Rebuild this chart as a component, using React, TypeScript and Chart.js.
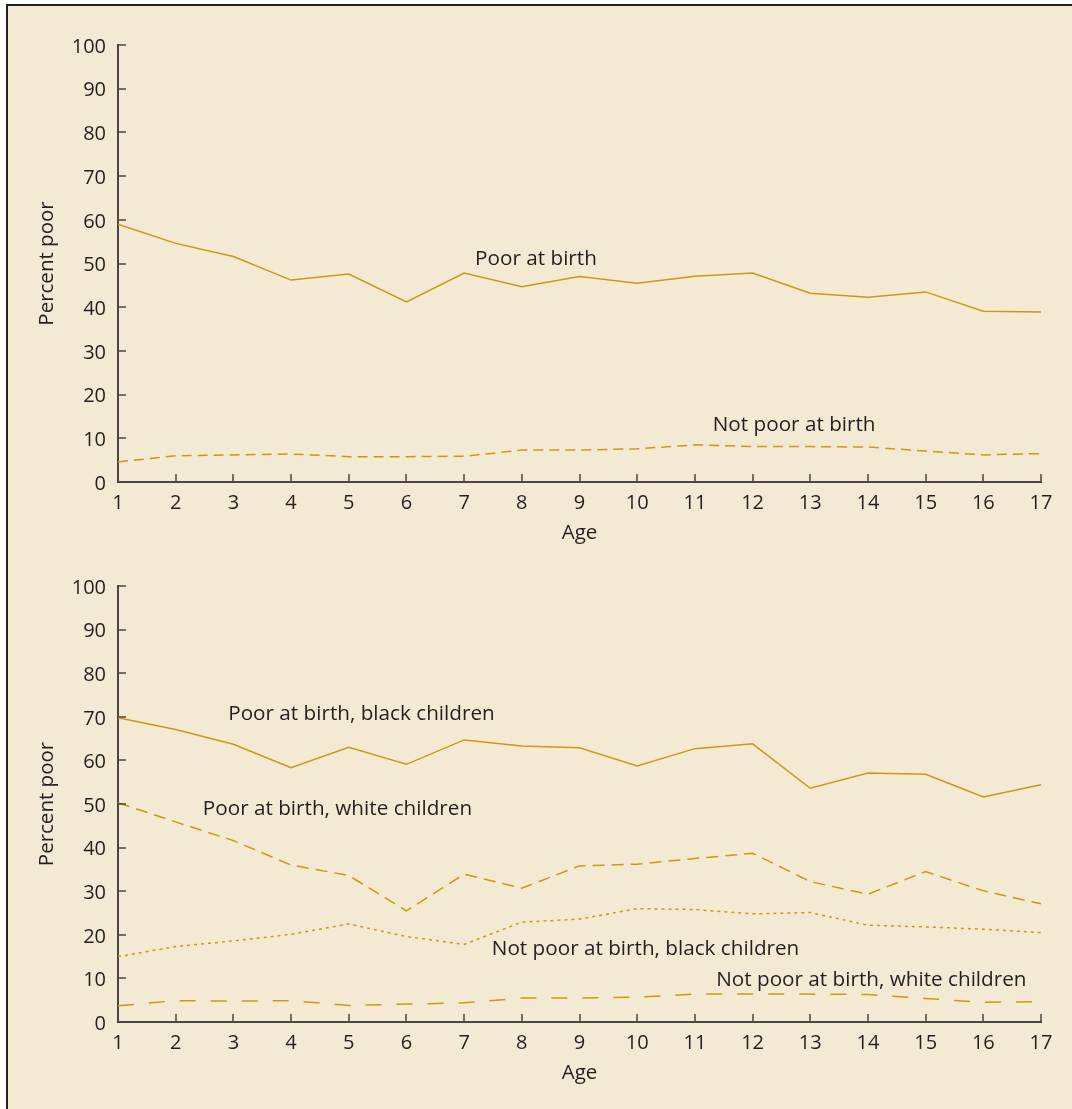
import { useEffect, useRef } from "react";
import { Chart, registerables } from "chart.js";

Chart.register(...registerables);

// ---------- data ----------
const ages = ["1", "2", "3", "4", "5", "6", "7", "8", "9", "10", "11", "12", "13", "14", "15", "16", "17"];

const poorAtBirth = [59.0, 54.6, 51.6, 46.2, 47.6, 41.2, 47.8, 44.7, 47.0, 45.5, 47.1, 47.8, 43.2, 42.3, 43.5, 39.1, 38.9];
const notPoorAtBirth = [4.6, 6.0, 6.2, 6.4, 5.8, 5.8, 5.9, 7.3, 7.3, 7.6, 8.5, 8.1, 8.1, 8.0, 7.1, 6.2, 6.5];

const poorBlack = [69.8, 67.1, 63.7, 58.3, 63.0, 59.1, 64.7, 63.3, 62.9, 58.7, 62.7, 63.8, 53.6, 57.1, 56.8, 51.6, 54.4];
const poorWhite = [50.3, 45.9, 41.6, 36.0, 33.6, 25.5, 33.9, 30.7, 35.8, 36.2, 37.5, 38.7, 32.2, 29.3, 34.5, 30.1, 27.1];
const notPoorBlack = [15.0, 17.3, 18.6, 20.1, 22.5, 19.6, 17.8, 22.9, 23.6, 26.0, 25.8, 24.8, 25.1, 22.2, 21.8, 21.3, 20.5];
const notPoorWhite = [3.7, 4.9, 4.8, 4.9, 3.8, 4.1, 4.4, 5.5, 5.5, 5.7, 6.4, 6.4, 6.4, 6.3, 5.4, 4.5, 4.7];

const yMin = 0;
const yMax = 100;
const yStep = 10;

// ---------- labels placed in data units (age, percent at text baseline) ----------
const notesTop = [
  { text: "Poor at birth", age: 7.19, pct: 49.7 },
  { text: "Not poor at birth", age: 11.31, pct: 11.7 },
];
const notesBottom = [
  { text: "Poor at birth, black children", age: 2.91, pct: 69.3 },
  { text: "Poor at birth, white children", age: 2.47, pct: 47.5 },
  { text: "Not poor at birth, black children", age: 7.48, pct: 15.4 },
  { text: "Not poor at birth, white children", age: 11.37, pct: 8.3 },
];

// ---------- styles ----------
const FONT = "'Open Sans', 'Noto Sans', sans-serif";
const INK = "#231f20";
const AXIS = "#4a4644";
const GOLD = "#c99a10";
const BG = "#f4ead4";

const inwardTicks = {
  id: "inwardTicks",
  afterDatasetsDraw(chart: any) {
    const { ctx, chartArea, scales } = chart;
    const xs = scales.x;
    const ys = scales.y;
    ctx.save();
    ctx.strokeStyle = AXIS;
    ctx.lineWidth = 1.5;
    ctx.beginPath();
    ys.ticks.forEach((_t: any, i: number) => {
      const py = Math.round(ys.getPixelForTick(i));
      ctx.moveTo(chartArea.left, py);
      ctx.lineTo(chartArea.left + 8, py);
    });
    xs.ticks.forEach((_t: any, i: number) => {
      const px = Math.round(xs.getPixelForTick(i));
      ctx.moveTo(px, chartArea.bottom);
      ctx.lineTo(px, chartArea.bottom - 8);
    });
    ctx.stroke();
    ctx.restore();
  },
};

const notesPlugin = {
  id: "notes",
  afterDraw(chart: any, _args: any, opts: any) {
    const { ctx, scales } = chart;
    const items = (opts && opts.items) || [];
    ctx.save();
    ctx.fillStyle = INK;
    ctx.font = `20.7px ${FONT}`;
    ctx.textAlign = "left";
    ctx.textBaseline = "alphabetic";
    items.forEach((n: any) => {
      const px = scales.x.getPixelForValue(n.age - 1);
      const py = scales.y.getPixelForValue(n.pct);
      ctx.fillText(n.text, px, py);
    });
    ctx.restore();
  },
};

function line(data: number[], dash: number[]) {
  return {
    data,
    borderColor: GOLD,
    backgroundColor: GOLD,
    borderWidth: 1.5,
    borderDash: dash,
    pointRadius: 0,
    tension: 0,
    fill: false,
  };
}

function makeConfig(datasets: any[], notes: any[], padTop: number): any {
  const font = { family: FONT, size: 20 };
  const titleFont = { family: FONT, size: 20.5 };
  return {
    type: "line",
    data: { labels: ages, datasets },
    options: {
      animation: false,
      responsive: false,
      layout: { padding: { top: padTop, right: 31, left: 0, bottom: 0 } },
      plugins: {
        legend: { display: false },
        tooltip: { enabled: false },
        notes: { items: notes },
      },
      scales: {
        x: {
          offset: false,
          grid: { display: true, drawOnChartArea: false, drawTicks: false },
          border: { display: true, color: AXIS, width: 2 },
          ticks: { color: INK, font, padding: 9, maxRotation: 0, autoSkip: false },
          title: { display: true, text: "Age", color: INK, font: titleFont, padding: { top: 0, bottom: 15 } },
          afterFit: (s: any) => {
            s.height = 78;
          },
        },
        y: {
          min: yMin,
          max: yMax,
          grid: { display: true, drawOnChartArea: false, drawTicks: false },
          border: { display: true, color: AXIS, width: 2 },
          ticks: { stepSize: yStep, color: INK, font, padding: 12, labelOffset: 2 },
          title: { display: true, text: "Percent poor", color: INK, font: titleFont, padding: { top: 35, bottom: 0 } },
          afterFit: (s: any) => {
            s.width = 118;
          },
        },
      },
    },
    plugins: [inwardTicks, notesPlugin],
  };
}

function Panel({ top, datasets, notes, padTop }: any) {
  const ref = useRef<HTMLCanvasElement | null>(null);
  useEffect(() => {
    if (!ref.current) return;
    const chart = new Chart(ref.current, makeConfig(datasets, notes, padTop));
    return () => chart.destroy();
  }, []);
  return (
    <canvas
      ref={ref}
      width={1072}
      height={560}
      style={{ position: "absolute", left: 0, top, width: 1072, height: 560 }}
    />
  );
}

export default function App() {
  return (
    <div style={{ position: "fixed", left: 0, top: 0, width: 1072, height: 1109, background: "#ffffff", overflow: "hidden" }}>
      <div
        style={{
          position: "absolute",
          left: 6,
          top: 4,
          width: 1100,
          height: 1140,
          background: BG,
          borderTop: "2px solid #231f20",
          borderLeft: "2px solid #231f20",
        }}
      />
      <Panel
        top={0}
        padTop={45}
        notes={notesTop}
        datasets={[line(poorAtBirth, []), line(notPoorAtBirth, [10, 6])]}
      />
      <Panel
        top={540}
        padTop={46}
        notes={notesBottom}
        datasets={[
          line(poorBlack, []),
          line(poorWhite, [12, 7]),
          line(notPoorBlack, [3, 4]),
          line(notPoorWhite, [16, 15]),
        ]}
      />
    </div>
  );
}
